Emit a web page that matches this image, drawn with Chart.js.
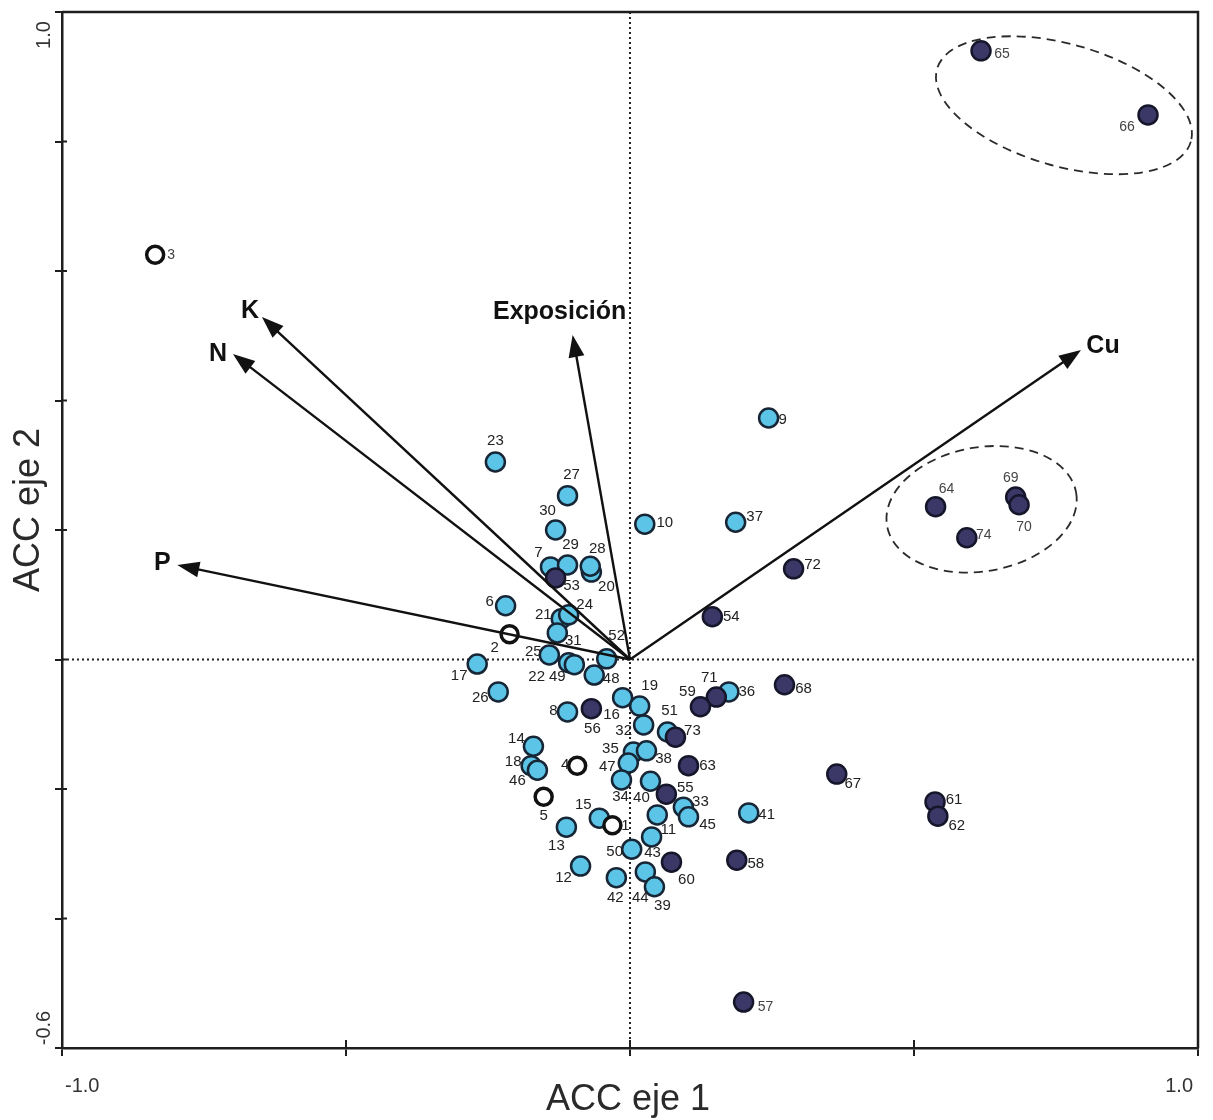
<!DOCTYPE html>
<html>
<head>
<meta charset="utf-8">
<script src="https://cdn.jsdelivr.net/npm/chart.js@4.4.1/dist/chart.umd.min.js"></script>
<style>
  html, body { margin: 0; padding: 0; background: #fff; }
  #wrap { width: 1213px; height: 1120px; }
</style>
</head>
<body>
<div id="wrap"><canvas id="acc" width="1213" height="1120"></canvas></div>
<script>
// --- Sitios: puntuaciones ACC (eje 1, eje 2) ---
// claros (celeste)
const idsClaros = [23, 27, 30, 7, 29, 20, 28, 6, 21, 24, 31, 25, 52, 17, 22, 49, 48, 10, 26, 16, 19, 32, 8, 51,
  14, 18, 46, 35, 38, 47, 34, 40, 33, 45, 15, 11, 13, 43, 50, 12, 42, 44, 39, 9, 37, 36, 41];
const eje1Claros = [-0.237, -0.110, -0.131, -0.140, -0.110, -0.068, -0.070, -0.219, -0.121, -0.108, -0.128, -0.142,
  -0.041, -0.269, -0.108, -0.098, -0.063, 0.026, -0.232, -0.013, 0.017, 0.024, -0.110, 0.066,
  -0.170, -0.174, -0.163, 0.006, 0.029, -0.003, -0.015, 0.036, 0.094, 0.103, -0.054, 0.048,
  -0.112, 0.038, 0.003, -0.087, -0.024, 0.027, 0.043, 0.244, 0.186, 0.174, 0.209];
const eje2Claros = [0.305, 0.253, 0.200, 0.143, 0.146, 0.135, 0.144, 0.083, 0.063, 0.069, 0.041, 0.007,
  0.001, -0.007, -0.005, -0.008, -0.024, 0.209, -0.050, -0.059, -0.072, -0.101, -0.081, -0.112,
  -0.134, -0.164, -0.171, -0.143, -0.141, -0.160, -0.186, -0.188, -0.228, -0.243, -0.245, -0.240,
  -0.259, -0.274, -0.293, -0.319, -0.337, -0.328, -0.351, 0.373, 0.212, -0.050, -0.237];

// oscuros
const idsOscuros = [53, 56, 73, 63, 55, 60, 72, 54, 71, 59, 68, 67, 61, 62, 58, 57, 65, 66, 64, 69, 70, 74];
const eje1Oscuros = [-0.131, -0.068, 0.080, 0.103, 0.064, 0.073, 0.288, 0.145, 0.152, 0.124, 0.272, 0.364,
  0.537, 0.542, 0.188, 0.200, 0.618, 0.912, 0.538, 0.679, 0.685, 0.593];
const eje2Oscuros = [0.126, -0.076, -0.120, -0.164, -0.208, -0.313, 0.140, 0.066, -0.058, -0.073, -0.039, -0.177,
  -0.220, -0.242, -0.310, -0.529, 0.940, 0.841, 0.236, 0.251, 0.239, 0.188];

// vacios
const idsVacios = [3, 2, 4, 5, 1];
const eje1Vacios = [-0.836, -0.212, -0.093, -0.152, -0.031];
const eje2Vacios = [0.625, 0.039, -0.164, -0.212, -0.256];

// variables ambientales (puntas de flecha)
const variables = ['K', 'N', 'P', 'Exposición', 'Cu'];
const varEje1 = [-0.648, -0.699, -0.797, -0.101, 0.794];
const varEje2 = [0.529, 0.472, 0.146, 0.501, 0.478];

// grupos marcados con elipse (centro en unidades de los ejes)
const gruposEje1 = [0.764, 0.619];
const gruposEje2 = [0.856, 0.232];

// ejes
const ejeXTicks = ['-1.0', '1.0'];
const ejeYTicks = ['1.0', '-0.6'];

// --- estilo / colocacion de etiquetas (px) ---
const offEtiqueta = {
  23: [0, -21], 27: [4, -21], 30: [-8, -19], 7: [-12, -14], 29: [3, -20], 20: [15, 15], 28: [7, -17],
  6: [-16, -4], 21: [-18, -4], 24: [16, -10], 31: [16, 8], 25: [-16, -3], 52: [10, -23], 17: [-18, 12],
  22: [-32, 14], 49: [-17, 12], 48: [17, 4], 10: [20, -1], 26: [-18, 6], 16: [-11, 17], 19: [10, -20],
  32: [-20, 6], 8: [-14, -1], 51: [2, -21], 14: [-17, -7], 18: [-18, -4], 46: [-20, 11], 35: [-23, -3],
  38: [17, 8], 47: [-21, 4], 34: [-1, 17], 40: [-9, 17], 33: [17, -5], 45: [19, 8], 15: [-16, -13],
  11: [11, 15], 13: [-10, 19], 43: [1, 16], 50: [-17, 3], 12: [-17, 12], 42: [-1, 20], 44: [-5, 26],
  39: [8, 19], 9: [14, 2], 37: [19, -5], 36: [18, 0], 41: [18, 2],
  53: [16, 8], 56: [1, 20], 73: [17, -6], 63: [19, 0], 55: [19, -6], 60: [15, 18], 72: [19, -4],
  54: [19, 0], 71: [-7, -19], 59: [-13, -15], 68: [19, 4], 67: [16, 10], 61: [19, -2], 62: [19, 10],
  58: [19, 4], 57: [22, 5], 65: [21, 3], 66: [-21, 12], 64: [11, -18], 69: [-5, -19], 70: [5, 22],
  74: [17, -3],
  3: [16, 0], 2: [-15, 14], 4: [-12, -1], 5: [0, 19], 1: [13, 1]
};
const etiquetasFinas = [65, 66, 64, 69, 70, 74, 57, 3];
const offVariable = { 'K': [-12, -6], 'N': [-15, 0], 'P': [-15, -2], 'Exposición': [-13, -23], 'Cu': [22, -4] };
const elipses = [ { rx: 132, ry: 61, rot: 16 }, { rx: 96, ry: 62, rot: -10 } ];

const FONT = '"Liberation Sans", Arial, sans-serif';

function puntos(e1, e2) {
  return e1.map((v, i) => ({ x: v, y: e2[i] }));
}

// --- Plugin de decoracion ---
const accDecor = {
  id: 'accDecor',
  beforeDatasetsDraw(chart) {
    const { ctx, chartArea: a, scales: { x, y } } = chart;
    const x0 = x.getPixelForValue(0), y0 = y.getPixelForValue(0);
    ctx.save();
    ctx.strokeStyle = '#222';
    ctx.lineWidth = 2;
    ctx.setLineDash([2, 3]);
    ctx.beginPath();
    ctx.moveTo(a.left, y0); ctx.lineTo(a.right, y0);
    ctx.moveTo(x0, a.top); ctx.lineTo(x0, a.bottom);
    ctx.stroke();

    ctx.setLineDash([9, 6]);
    ctx.lineWidth = 1.8;
    ctx.strokeStyle = '#2a2a2a';
    elipses.forEach((e, i) => {
      ctx.beginPath();
      ctx.ellipse(x.getPixelForValue(gruposEje1[i]), y.getPixelForValue(gruposEje2[i]),
        e.rx, e.ry, e.rot * Math.PI / 180, 0, 2 * Math.PI);
      ctx.stroke();
    });
    ctx.restore();
  },
  afterDatasetsDraw(chart) {
    const { ctx, scales: { x, y } } = chart;
    const x0 = x.getPixelForValue(0), y0 = y.getPixelForValue(0);
    ctx.save();

    // flechas
    variables.forEach((nombre, i) => {
      const tx = x.getPixelForValue(varEje1[i]), ty = y.getPixelForValue(varEje2[i]);
      const ang = Math.atan2(ty - y0, tx - x0);
      const largo = 22, ancho = 8;
      const bx = tx - largo * Math.cos(ang), by = ty - largo * Math.sin(ang);
      ctx.strokeStyle = '#111';
      ctx.fillStyle = '#111';
      ctx.lineWidth = 2.4;
      ctx.beginPath();
      ctx.moveTo(x0, y0); ctx.lineTo(bx + 2 * Math.cos(ang), by + 2 * Math.sin(ang));
      ctx.stroke();
      ctx.beginPath();
      ctx.moveTo(tx, ty);
      ctx.lineTo(bx - ancho * Math.sin(ang), by + ancho * Math.cos(ang));
      ctx.lineTo(bx + ancho * Math.sin(ang), by - ancho * Math.cos(ang));
      ctx.closePath();
      ctx.fill();

      const off = offVariable[nombre];
      ctx.font = 'bold 25px ' + FONT;
      ctx.textAlign = 'center';
      ctx.textBaseline = 'middle';
      ctx.fillText(nombre, tx + off[0], ty + off[1]);
    });

    // etiquetas de sitios
    ctx.textAlign = 'center';
    ctx.textBaseline = 'middle';
    chart.data.datasets.forEach((ds, di) => {
      const meta = chart.getDatasetMeta(di);
      meta.data.forEach((pt, j) => {
        const id = ds.ids[j];
        const off = offEtiqueta[id] || [16, 0];
        const fina = etiquetasFinas.includes(id);
        ctx.font = (fina ? '14px ' : '15px ') + FONT;
        ctx.fillStyle = fina ? '#444' : '#222';
        ctx.fillText(String(id), pt.x + off[0], pt.y + off[1]);
      });
    });
    ctx.restore();
  },
  afterDraw(chart) {
    const { ctx, chartArea: a, scales: { x, y } } = chart;
    ctx.save();
    // marco superior y derecho
    ctx.strokeStyle = '#1e1e1e';
    ctx.lineWidth = 2.5;
    ctx.beginPath();
    ctx.moveTo(a.left, a.top); ctx.lineTo(a.right, a.top); ctx.lineTo(a.right, a.bottom);
    ctx.stroke();

    // parte interior de las marcas
    ctx.lineWidth = 2;
    ctx.beginPath();
    y.ticks.forEach(t => {
      const py = y.getPixelForValue(t.value);
      ctx.moveTo(a.left, py); ctx.lineTo(a.left + 5, py);
    });
    x.ticks.forEach(t => {
      const px = x.getPixelForValue(t.value);
      ctx.moveTo(px, a.bottom); ctx.lineTo(px, a.bottom - 8);
    });
    ctx.stroke();

    // etiquetas de los extremos
    ctx.fillStyle = '#333';
    ctx.font = '20px ' + FONT;
    ctx.textBaseline = 'alphabetic';
    ctx.textAlign = 'left';
    ctx.fillText(ejeXTicks[0], a.left + 3, 1092);
    ctx.textAlign = 'right';
    ctx.fillText(ejeXTicks[1], a.right - 5, 1092);

    ctx.save();
    ctx.translate(50, a.top + 23);
    ctx.rotate(-Math.PI / 2);
    ctx.textAlign = 'center';
    ctx.fillText(ejeYTicks[0], 0, 0);
    ctx.restore();
    ctx.save();
    ctx.translate(50, a.bottom - 20);
    ctx.rotate(-Math.PI / 2);
    ctx.textAlign = 'center';
    ctx.fillText(ejeYTicks[1], 0, 0);
    ctx.restore();

    // titulos de ejes
    ctx.font = '36px ' + FONT;
    ctx.fillStyle = '#2a2a2a';
    ctx.textAlign = 'center';
    ctx.fillText('ACC eje 1', (a.left + a.right) / 2 - 2, 1110);
    ctx.save();
    ctx.translate(39, 510);
    ctx.rotate(-Math.PI / 2);
    ctx.fillText('ACC eje 2', 0, 0);
    ctx.restore();
    ctx.restore();
  }
};

// --- Grafico ---
function initChart() {
  const ctx = document.getElementById('acc').getContext('2d');
  new Chart(ctx, {
    type: 'scatter',
    data: {
      datasets: [
        { label: 'vacios', ids: idsVacios, data: puntos(eje1Vacios, eje2Vacios),
          pointRadius: 8.5, borderWidth: 3.5, backgroundColor: '#ffffff', borderColor: '#111111' },
        { label: 'oscuros', ids: idsOscuros, data: puntos(eje1Oscuros, eje2Oscuros),
          pointRadius: 9.5, borderWidth: 2.5, backgroundColor: '#3b3767', borderColor: '#16162a' },
        { label: 'claros', ids: idsClaros, data: puntos(eje1Claros, eje2Claros),
          pointRadius: 9.5, borderWidth: 2.5, backgroundColor: '#5cc4e6', borderColor: '#172636' }
      ]
    },
    options: {
      responsive: false,
      animation: false,
      events: [],
      layout: { padding: { left: 55, right: 15, top: 12, bottom: 64 } },
      scales: {
        x: {
          type: 'linear', min: -1, max: 1,
          ticks: { display: false, stepSize: 0.5 },
          grid: { drawOnChartArea: false, drawTicks: true, tickLength: 8, color: '#1e1e1e', lineWidth: 2 },
          border: { display: true, color: '#1e1e1e', width: 2.5 }
        },
        y: {
          type: 'linear', min: -0.6, max: 1.0,
          ticks: { display: false, stepSize: 0.2 },
          grid: { drawOnChartArea: false, drawTicks: true, tickLength: 7, color: '#1e1e1e', lineWidth: 2 },
          border: { display: true, color: '#1e1e1e', width: 2.5 }
        }
      },
      plugins: {
        legend: { display: false },
        tooltip: { enabled: false }
      }
    },
    plugins: [accDecor]
  });
}

initChart();
</script>
</body>
</html>
